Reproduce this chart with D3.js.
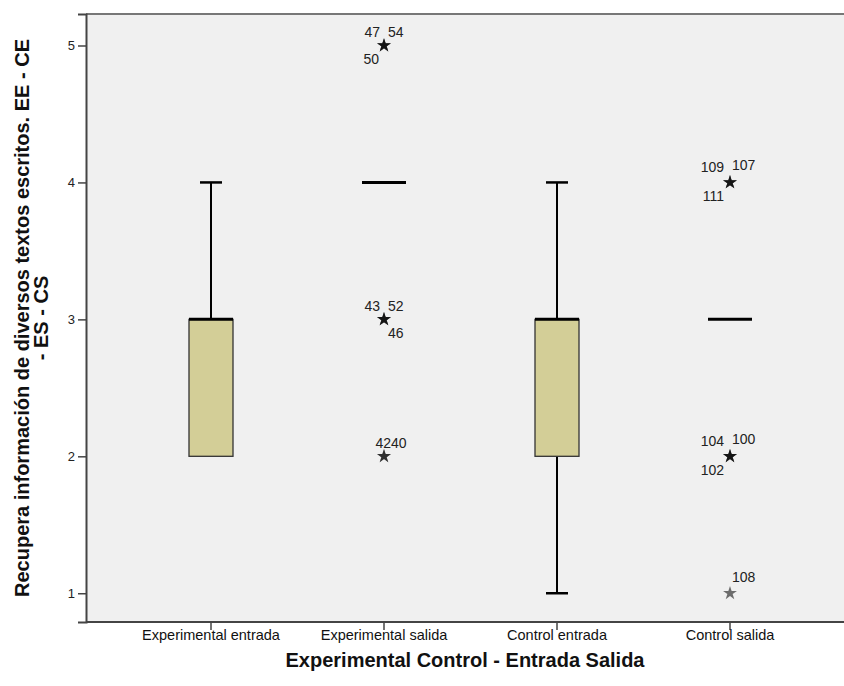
<!DOCTYPE html>
<html>
<head>
<meta charset="utf-8">
<script src="https://cdn.jsdelivr.net/npm/d3@7"></script>
<style>
  body { margin: 0; background: #fff; }
  svg text { font-family: "Liberation Sans", Arial, sans-serif; }
</style>
</head>
<body>
<div id="chart"></div>
<script>
// Boxplot: Experimental / Control, entrada / salida

const categories = ["Experimental entrada", "Experimental salida", "Control entrada", "Control salida"];
const q1 = [2, 4, 2, 3];
const medians = [3, 4, 3, 3];
const q3 = [3, 4, 3, 3];
const whiskerLow = [2, 4, 1, 3];
const whiskerHigh = [4, 4, 4, 3];
const yTicks = [1, 2, 3, 4, 5];

// extreme cases (stars) with case ids
const outliers = [
  {cat: "Experimental salida", value: 5, ids: [47, 54, 50]},
  {cat: "Experimental salida", value: 3, ids: [43, 52, 46]},
  {cat: "Experimental salida", value: 2, ids: [42, 40]},
  {cat: "Control salida", value: 4, ids: [109, 107, 111]},
  {cat: "Control salida", value: 2, ids: [104, 100, 102]},
  {cat: "Control salida", value: 1, ids: [108]}
];

const yTitle = ["Recupera información de diversos textos escritos. EE - CE", "- ES - CS"];
const xTitle = "Experimental Control - Entrada Salida";

const width = 844, height = 686;
const plot = {left: 86, right: 844, top: 14, bottom: 622};

const svg = d3.select("#chart").append("svg")
  .attr("width", width)
  .attr("height", height);

const x = d3.scaleBand()
  .domain(categories)
  .range([124.5, 816.5])
  .padding(0);

const y = d3.scaleLinear()
  .domain([0.79, 5.23])
  .range([plot.bottom, plot.top]);

const cx = c => x(c) + x.bandwidth() / 2;

// plot background
svg.append("rect")
  .attr("x", plot.left)
  .attr("y", plot.top)
  .attr("width", plot.right - plot.left)
  .attr("height", plot.bottom - plot.top)
  .attr("fill", "#f0f0f0");

// frame top line
svg.append("line")
  .attr("x1", plot.left).attr("x2", plot.right)
  .attr("y1", plot.top).attr("y2", plot.top)
  .attr("stroke", "#777").attr("stroke-width", 2);

// axes
const yAxis = svg.append("g")
  .attr("transform", `translate(${plot.left},0)`)
  .call(d3.axisLeft(y).tickValues(yTicks).tickSize(8).tickPadding(3).tickFormat(d3.format("d")));
yAxis.select(".domain").attr("stroke", "#444").attr("stroke-width", 2);
yAxis.selectAll(".tick line").attr("stroke", "#444").attr("stroke-width", 1.5);
yAxis.selectAll(".tick text").attr("font-size", 13).attr("fill", "#222")
  .style("font-family", "'Liberation Sans', Arial, sans-serif");

const xAxis = svg.append("g")
  .attr("transform", `translate(0,${plot.bottom})`)
  .call(d3.axisBottom(x).tickSize(8).tickPadding(0));
xAxis.select(".domain").attr("d", `M${plot.left},0H${plot.right}`)
  .attr("stroke", "#444").attr("stroke-width", 2);
xAxis.selectAll(".tick line").attr("stroke", "#444").attr("stroke-width", 1.5);
xAxis.selectAll(".tick text").attr("font-size", 14.5).attr("fill", "#111")
  .style("font-family", "'Liberation Sans', Arial, sans-serif");

// boxes
const boxW = 44, capW = 22;
const stats = categories.map((c, i) => ({
  c, q1: q1[i], med: medians[i], q3: q3[i], lo: whiskerLow[i], hi: whiskerHigh[i]
}));

const g = svg.append("g");

stats.forEach(d => {
  const xc = cx(d.c);
  if (d.hi > d.q3) {
    g.append("line").attr("x1", xc).attr("x2", xc).attr("y1", y(d.q3)).attr("y2", y(d.hi))
      .attr("stroke", "#000").attr("stroke-width", 2);
    g.append("line").attr("x1", xc - capW / 2).attr("x2", xc + capW / 2).attr("y1", y(d.hi)).attr("y2", y(d.hi))
      .attr("stroke", "#000").attr("stroke-width", 2.5);
  }
  if (d.lo < d.q1) {
    g.append("line").attr("x1", xc).attr("x2", xc).attr("y1", y(d.q1)).attr("y2", y(d.lo))
      .attr("stroke", "#000").attr("stroke-width", 2);
    g.append("line").attr("x1", xc - capW / 2).attr("x2", xc + capW / 2).attr("y1", y(d.lo)).attr("y2", y(d.lo))
      .attr("stroke", "#000").attr("stroke-width", 2.5);
  }
  if (d.q3 > d.q1) {
    g.append("rect")
      .attr("x", xc - boxW / 2).attr("y", y(d.q3))
      .attr("width", boxW).attr("height", y(d.q1) - y(d.q3))
      .attr("fill", "#d3ce97").attr("stroke", "#333").attr("stroke-width", 1.3);
  }
  g.append("line").attr("x1", xc - boxW / 2).attr("x2", xc + boxW / 2).attr("y1", y(d.med)).attr("y2", y(d.med))
    .attr("stroke", "#000").attr("stroke-width", 3);
});

// stars + case labels
const labelSlot = {
  47: [-4, -8, "end"], 54: [4, -8, "start"], 50: [-5, 19, "end"],
  43: [-4, -8, "end"], 52: [4, -8, "start"], 46: [4, 19, "start"],
  42: [7, -8, "end"], 40: [7, -8, "start"],
  109: [-6, -10, "end"], 107: [2, -12, "start"], 111: [-6, 19, "end"],
  104: [-6, -10, "end"], 100: [2, -12, "start"], 102: [-6, 19, "end"],
  108: [2, -11, "start"]
};
const star = d3.symbol().type(d3.symbolStar).size(60);

outliers.forEach(o => {
  const xc = cx(o.cat), yc = y(o.value);
  o.ids.forEach(id => {
    g.append("path")
      .attr("d", star)
      .attr("transform", `translate(${xc},${yc})`)
      .attr("fill", "#000")
      .attr("opacity", 0.55);
    const s = labelSlot[id];
    g.append("text")
      .attr("x", xc + s[0]).attr("y", yc + s[1])
      .attr("text-anchor", s[2])
      .attr("font-size", 14)
      .attr("fill", "#222")
      .text(id);
  });
});

// axis titles
svg.append("text")
  .attr("x", (plot.left + plot.right) / 2)
  .attr("y", 667)
  .attr("text-anchor", "middle")
  .attr("font-size", 20)
  .attr("font-weight", "bold")
  .attr("fill", "#111")
  .text(xTitle);

const yt = svg.append("text")
  .attr("transform", `translate(29,${(plot.top + plot.bottom) / 2}) rotate(-90)`)
  .attr("text-anchor", "middle")
  .attr("font-size", 20)
  .attr("font-weight", "bold")
  .attr("fill", "#111");
yTitle.forEach((t, i) => {
  yt.append("tspan").attr("x", 0).attr("dy", i === 0 ? 0 : 19).text(t);
});
</script>
</body>
</html>
